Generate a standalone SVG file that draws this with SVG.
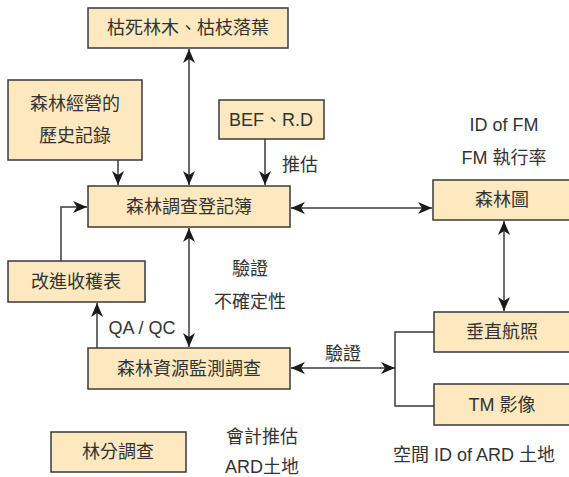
<svg xmlns="http://www.w3.org/2000/svg" width="569" height="477" viewBox="0 0 569 477">
<style>
.box{fill:#FDE8C0;stroke:#3a3a3a;stroke-width:1.5}
.t{font-family:"Liberation Sans","Noto Sans CJK TC",sans-serif;font-size:18px;fill:#333;text-anchor:middle;dominant-baseline:central}
.ln{fill:none;stroke:#3a3a3a;stroke-width:1.5}
</style>
<defs>
<marker id="ah" viewBox="0 0 14 12" refX="14" refY="6" markerWidth="14" markerHeight="12" markerUnits="userSpaceOnUse" orient="auto-start-reverse">
<path d="M0,0 L14,6 L0,12 L4,6 z" fill="#1a1a1a"/>
</marker>
</defs>
<rect width="569" height="477" fill="#fff"/>
<g id="connectors">
<line class="ln" x1="189" y1="49" x2="189" y2="185" marker-start="url(#ah)" marker-end="url(#ah)"/>
<line class="ln" x1="118" y1="160" x2="118" y2="185" marker-end="url(#ah)"/>
<line class="ln" x1="265" y1="139" x2="265" y2="185" marker-end="url(#ah)"/>
<polyline class="ln" points="61,261 61,207 87,207" marker-end="url(#ah)"/>
<line class="ln" x1="291" y1="208" x2="432" y2="208" marker-start="url(#ah)" marker-end="url(#ah)"/>
<line class="ln" x1="504" y1="221" x2="504" y2="311" marker-start="url(#ah)" marker-end="url(#ah)"/>
<line class="ln" x1="189" y1="228" x2="189" y2="347" marker-start="url(#ah)" marker-end="url(#ah)"/>
<line class="ln" x1="97" y1="348" x2="97" y2="303" marker-end="url(#ah)"/>
<line class="ln" x1="291" y1="368" x2="395" y2="368" marker-start="url(#ah)" marker-end="url(#ah)"/>
<polyline class="ln" points="434,332 395,332 395,406 434,406"/>
</g>
<g id="n1"><rect class="box" x="88" y="8" width="200" height="40"/><text class="t" x="188" y="28">枯死林木、枯枝落葉</text></g>
<g id="n2"><rect class="box" x="8" y="80" width="134" height="80"/><text class="t" x="75" y="104">森林經營的</text><text class="t" x="75" y="136">歷史記錄</text></g>
<g id="n3"><rect class="box" x="219" y="100" width="105" height="39"/><text class="t" x="271" y="120">BEF、R.D</text></g>
<g id="n4"><rect class="box" x="88" y="186" width="202" height="41"/><text class="t" x="189" y="207">森林調查登記簿</text></g>
<g id="n5"><rect class="box" x="8" y="261" width="137" height="41"/><text class="t" x="76" y="282">改進收穫表</text></g>
<g id="n6"><rect class="box" x="88" y="348" width="202" height="41"/><text class="t" x="189" y="369">森林資源監測調查</text></g>
<g id="n7"><rect class="box" x="51" y="432" width="135" height="40"/><text class="t" x="118" y="452">林分調查</text></g>
<g id="n8"><rect class="box" x="433" y="180" width="140" height="40"/><text class="t" x="502" y="200">森林圖</text></g>
<g id="n9"><rect class="box" x="434" y="312" width="140" height="40"/><text class="t" x="502" y="332">垂直航照</text></g>
<g id="n10"><rect class="box" x="434" y="384" width="140" height="41"/><text class="t" x="502" y="405">TM 影像</text></g>
<g id="labels">
<text class="t" x="300" y="165">推估</text>
<text class="t" x="504" y="125">ID of FM</text>
<text class="t" x="504" y="158">FM 執行率</text>
<text class="t" x="250" y="269">驗證</text>
<text class="t" x="250" y="302">不確定性</text>
<text class="t" x="142" y="328">QA / QC</text>
<text class="t" x="343" y="354">驗證</text>
<text class="t" x="262" y="437">會計推估</text>
<text class="t" x="262" y="467">ARD土地</text>
<text class="t" x="474" y="455">空間 ID of ARD 土地</text>
</g>
</svg>
